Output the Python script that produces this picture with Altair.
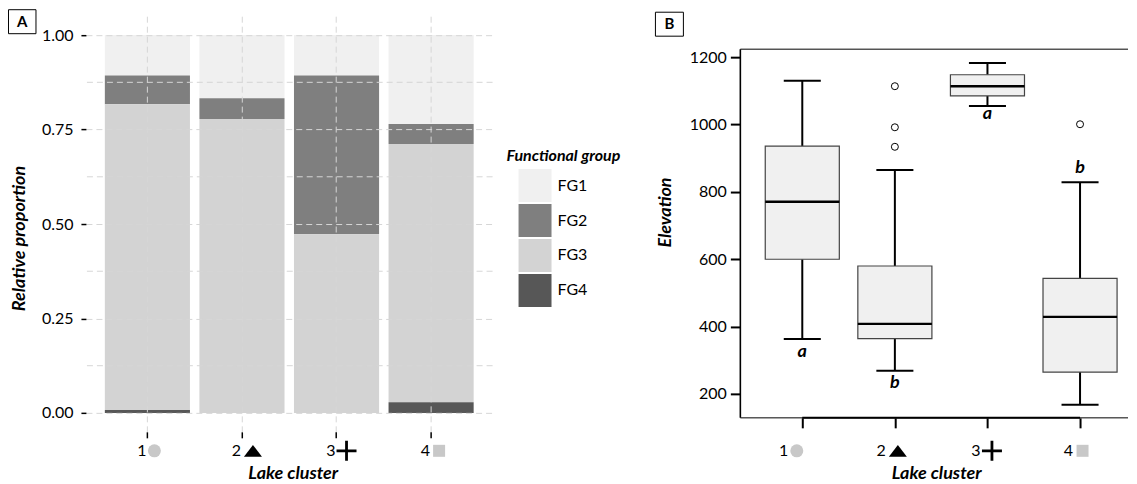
import altair as alt
import pandas as pd

# ---------------- data ----------------
clusters = ["1", "2", "3", "4"]
groups = ["FG1", "FG2", "FG3", "FG4"]
fg1 = [0.107, 0.167, 0.107, 0.235]
fg2 = [0.076, 0.055, 0.420, 0.053]
fg3 = [0.809, 0.778, 0.473, 0.684]
fg4 = [0.008, 0.000, 0.000, 0.028]
y_breaks = [0.0, 0.25, 0.5, 0.75, 1.0]
y_minor = [0.125, 0.375, 0.625, 0.875]

q1 = [600, 364, 1085, 265]
med = [771, 408, 1114, 429]
q3 = [936, 580, 1148, 543]
lo = [363, 269, 1055, 168]
hi = [1130, 865, 1183, 829]
out_cluster = ["2", "2", "2", "4"]
out_value = [1114, 992, 934, 1001]
letters = ["a", "b", "a", "b"]
letter_at = ["lo", "lo", "lo", "hi"]
elev_breaks = [200, 400, 600, 800, 1000, 1200]

# ---------------- styles ----------------
FONT = "Lato"
group_colors = ["#F0F0F0", "#7F7F7F", "#D3D3D3", "#575757"]
GRID = "#D6D6D6"
DASH = [6, 4]
tri_path = "M0,-0.65L1,0.65L-1,0.65Z"
cross_path = "M-1,-0.14H1V0.14H-1ZM-0.14,-1H0.14V1H-0.14Z"
sym_shapes = ["circle", tri_path, cross_path, "square"]
sym_sizes = [169, 324, 400, 144]
sym_colors = ["#C8C8C8", "black", "black", "#C8C8C8"]

WA, HA = 407, 416
WB, HB = 388, 402
TOPB = 33  # frame top of panel B, pixels below the plot origin

XT = "Lake cluster"
YTA = "Relative proportion"
YTB = "Elevation"

rows = []
for i, c in enumerate(clusters):
    for g, vals in zip(groups, [fg1, fg2, fg3, fg4]):
        rows.append({"cluster": c, "group": g, "prop": vals[i]})
dfA = pd.DataFrame(rows)
dfC = pd.DataFrame({"cluster": clusters})
one = pd.DataFrame({"t": ["A"]})
oneB = pd.DataFrame({"t": ["B"]})

# ---------------- panel A ----------------
xA = alt.X(
    "cluster:N", title=XT,
    scale=alt.Scale(paddingInner=0.1, paddingOuter=0.2),
    axis=alt.Axis(
        labels=False, domain=False, grid=True, gridColor=GRID, gridDash=DASH,
        gridWidth=1, bandPosition=0.5, ticks=True, tickColor="black",
        tickSize=6, tickWidth=1.5, zindex=1,
        titleFontSize=18, titleFontWeight="bold",
        titleFontStyle="italic", titleColor="black", titleX=207, titleY=47,
        titleAlign="center", titleBaseline="alphabetic",
    ),
)
yA = alt.Y(
    "prop:Q", stack="zero", title=YTA,
    scale=alt.Scale(domain=[-0.05, 1.05], nice=False, zero=False),
    axis=alt.Axis(
        values=y_breaks, format=".2f", domain=False, grid=True, gridColor=GRID,
        gridDash=DASH, gridWidth=1, tickColor="black", tickSize=5, tickWidth=1.5,
        labelFontSize=16, labelColor="black", labelPadding=8, zindex=1,
        titleFontSize=18, titleFontWeight="bold",
        titleFontStyle="italic", titleColor="black", titleX=-61, titleY=222,
        titleAngle=270, titleAlign="center", titleBaseline="alphabetic",
    ),
)

frameA = alt.Chart(one).mark_rect(opacity=0).encode(
    x=alt.value(-78), x2=alt.value(564), y=alt.value(-8), y2=alt.value(460))

bars = alt.Chart(dfA).mark_bar().encode(
    x=xA, y=yA,
    color=alt.Color(
        "group:N", scale=alt.Scale(domain=groups, range=group_colors),
        legend=alt.Legend(
            orient="none", legendX=421, legendY=132, title="Functional group",
            titleFontSize=16, titleFontWeight="bold", titleFontStyle="italic",
            titleColor="black", titlePadding=5, symbolType="square",
            symbolSize=1089, symbolStrokeWidth=0, symbolOffset=12,
            labelFontSize=16, labelColor="black", labelOffset=6, rowPadding=2,
            padding=0,
        ),
    ),
    order=alt.Order("group:N", sort="descending"),
)

minor = alt.Chart(pd.DataFrame({"v": y_minor})).mark_rule(
    color=GRID, strokeDash=DASH, strokeWidth=1).encode(
    y=alt.Y("v:Q", title=YTA))

boxA = alt.Chart(one).mark_rect(fill="transparent", stroke="black", strokeWidth=1).encode(
    x=alt.value(-77.5), x2=alt.value(-50), y=alt.value(-6.5), y2=alt.value(17.5))
txtA = alt.Chart(one).mark_text(fontSize=15, fontWeight="bold", color="black").encode(
    x=alt.value(-63.7), y=alt.value(5.5), text="t:N")

numA, symA = [], []
for i, c in enumerate(clusters):
    numA.append(
        alt.Chart(dfC).transform_filter(alt.datum.cluster == c)
        .mark_text(align="right", baseline="alphabetic", dx=-1, fontSize=16, color="black")
        .encode(x=alt.X("cluster:N", title=XT), y=alt.value(HA + 24), text="cluster:N"))
    symA.append(
        alt.Chart(dfC).transform_filter(alt.datum.cluster == c)
        .mark_point(shape=sym_shapes[i], size=sym_sizes[i], filled=True, opacity=1,
                    color=sym_colors[i], strokeWidth=0, xOffset=[7, 11, 10, 8][i])
        .encode(x=alt.X("cluster:N", title=XT), y=alt.value(HA + 19)))

panelA = alt.layer(frameA, bars, minor, boxA, txtA, *numA, *symA).properties(
    width=WA, height=HA)

# ---------------- panel B ----------------
dfB = pd.DataFrame({"cluster": clusters, "q1": q1, "med": med, "q3": q3,
                    "lo": lo, "hi": hi, "letter": letters, "letter_at": letter_at})
dfO = pd.DataFrame({"cluster": out_cluster, "value": out_value})

xscB = alt.Scale(domain=[0.331, 4.518], nice=False, zero=False)
yscB = alt.Scale(domain=[129, 1321.9], nice=False, zero=False)

xB_axis = alt.Axis(
    values=[int(c) for c in clusters], labels=False, domain=False, grid=False,
    tickColor="black", tickSize=10, tickWidth=2,
    titleFontSize=18, titleFontWeight="bold",
    titleFontStyle="italic", titleColor="black", titleX=196, titleY=61,
    titleAlign="center", titleBaseline="alphabetic",
)
yB_axis = alt.Axis(
    values=elev_breaks, format="d", domain=False, grid=False, tickColor="black",
    tickSize=10, tickWidth=2, labelFontSize=16, labelColor="black", labelPadding=4,
    titleFontSize=18, titleFontWeight="bold",
    titleFontStyle="italic", titleColor="black", titleX=-70, titleY=196,
    titleAngle=270, titleAlign="center", titleBaseline="alphabetic",
)

baseB = alt.Chart(dfB).transform_calculate(
    pos="toNumber(datum.cluster)",
    bx1="toNumber(datum.cluster) - 0.4", bx2="toNumber(datum.cluster) + 0.4",
    cx1="toNumber(datum.cluster) - 0.2", cx2="toNumber(datum.cluster) + 0.2",
    ly="datum.letter_at == 'hi' ? datum.hi : datum.lo",
)

frameB = alt.Chart(oneB).mark_rect(opacity=0).encode(
    x=alt.value(-91), x2=alt.value(WB), y=alt.value(-8), y2=alt.value(460))

whisk_up = baseB.mark_rule(color="black", strokeWidth=2).encode(
    x=alt.X("pos:Q", scale=xscB, axis=xB_axis, title=XT),
    y=alt.Y("q3:Q", scale=yscB, axis=yB_axis, title=YTB), y2="hi:Q")
whisk_lo = baseB.mark_rule(color="black", strokeWidth=2).encode(
    x=alt.X("pos:Q", title=XT), y=alt.Y("lo:Q", title=YTB), y2="q1:Q")
boxes = baseB.mark_rect(fill="#F0F0F0", stroke="#444444", strokeWidth=1.2).encode(
    x=alt.X("bx1:Q", title=XT), x2="bx2:Q", y=alt.Y("q1:Q", title=YTB), y2="q3:Q")
medians = baseB.mark_rule(color="black", strokeWidth=2.4).encode(
    x=alt.X("bx1:Q", title=XT), x2="bx2:Q", y=alt.Y("med:Q", title=YTB))
cap_hi = baseB.mark_rule(color="black", strokeWidth=2).encode(
    x=alt.X("cx1:Q", title=XT), x2="cx2:Q", y=alt.Y("hi:Q", title=YTB))
cap_lo = baseB.mark_rule(color="black", strokeWidth=2).encode(
    x=alt.X("cx1:Q", title=XT), x2="cx2:Q", y=alt.Y("lo:Q", title=YTB))
outl = alt.Chart(dfO).transform_calculate(pos="toNumber(datum.cluster)").mark_point(
    shape="circle", size=49, filled=False, stroke="black", strokeWidth=1, opacity=1).encode(
    x=alt.X("pos:Q", title=XT), y=alt.Y("value:Q", title=YTB))

letterL = []
for i, c in enumerate(clusters):
    letterL.append(
        baseB.transform_filter(alt.datum.cluster == c)
        .mark_text(baseline="alphabetic", dy=[17.7, 17.6, 13.3, -8.7][i], fontSize=18,
                   fontWeight="bold", fontStyle="italic", color="black")
        .encode(x=alt.X("pos:Q", title=XT), y=alt.Y("ly:Q", title=YTB), text="letter:N"))

top_line = alt.Chart(oneB).mark_rule(color="black", strokeWidth=1).encode(
    x=alt.value(0), x2=alt.value(WB), y=alt.value(TOPB))
bot_line = alt.Chart(oneB).mark_rule(color="black", strokeWidth=1).encode(
    x=alt.value(0), x2=alt.value(WB), y=alt.value(HB))
left_line = alt.Chart(oneB).mark_rule(color="black", strokeWidth=1.6).encode(
    x=alt.value(0), y=alt.value(TOPB), y2=alt.value(HB))
x_line = baseB.mark_rule(color="black", strokeWidth=2).encode(
    x=alt.X("min(pos):Q", title=XT), x2="max(pos):Q", y=alt.value(HB))

boxB = alt.Chart(oneB).mark_rect(fill="transparent", stroke="black", strokeWidth=1).encode(
    x=alt.value(-85), x2=alt.value(-57), y=alt.value(TOPB - 37), y2=alt.value(TOPB - 13))
txtB = alt.Chart(oneB).mark_text(fontSize=15, fontWeight="bold", color="black").encode(
    x=alt.value(-71), y=alt.value(TOPB - 25), text="t:N")

numB, symB = [], []
for i, c in enumerate(clusters):
    numB.append(
        baseB.transform_filter(alt.datum.cluster == c)
        .mark_text(align="right", baseline="alphabetic", dx=[-14, -9, -7, -7][i],
                   fontSize=16, color="black")
        .encode(x=alt.X("pos:Q", title=XT), y=alt.value(HB + 38), text="cluster:N"))
    symB.append(
        baseB.transform_filter(alt.datum.cluster == c)
        .mark_point(shape=sym_shapes[i], size=sym_sizes[i], filled=True, opacity=1,
                    color=sym_colors[i], strokeWidth=0, xOffset=[-5.5, 3, 4.5, 2.5][i])
        .encode(x=alt.X("pos:Q", title=XT), y=alt.value(HB + 33)))

panelB = alt.layer(
    frameB, whisk_up, whisk_lo, boxes, medians, cap_hi, cap_lo, outl, *letterL,
    top_line, bot_line, left_line, x_line, boxB, txtB, *numB, *symB,
).properties(width=WB, height=HB)

chart = (
    alt.hconcat(panelA, panelB, spacing=0)
    .properties(padding=0)
    .configure(font=FONT)
    .configure_view(stroke=None)
    .configure_axis(labelFont=FONT, titleFont=FONT)
    .configure_legend(labelFont=FONT, titleFont=FONT)
)

chart.save("out.html", embed_options={"renderer": "svg", "actions": False})
